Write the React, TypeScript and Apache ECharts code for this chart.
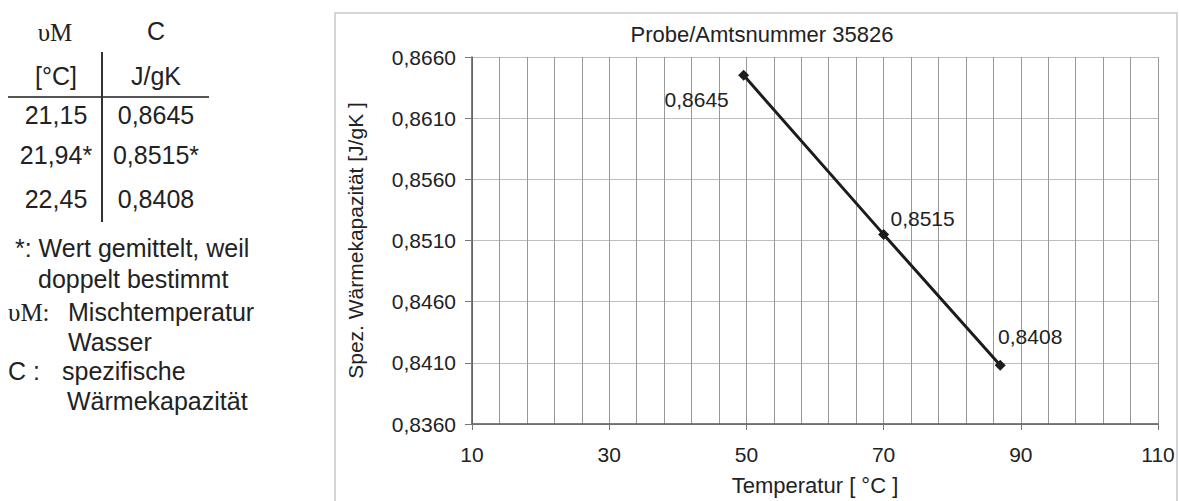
import React, { useEffect, useRef } from "react";
import * as echarts from "echarts";

// ---- data ----
const temperatures = [49.6, 70, 87];
const heatCapacity = [0.8645, 0.8515, 0.8408];
const pointLabels = ["0,8645", "0,8515", "0,8408"];

const tableTemps = ["21,15", "21,94*", "22,45"];
const tableCaps = ["0,8645", "0,8515*", "0,8408"];

const titleText = "Probe/Amtsnummer 35826";
const xName = "Temperatur [ °C ]";
const yName = "Spez. Wärmekapazität [J/gK ]";

const SANS = "'Liberation Sans', Arial, Helvetica, sans-serif";
const SERIF = "'Liberation Serif', 'DejaVu Serif', serif";

const labelOffsets: [number, number][] = [
  [-47, 24],
  [39, -16],
  [30, -29],
];

export default function App() {
  const ref = useRef<HTMLDivElement>(null);

  useEffect(() => {
    if (!ref.current) return;
    const chart = echarts.init(ref.current, undefined, { renderer: "svg" });

    const txt = (
      text: string,
      x: number,
      y: number,
      align: string = "left",
      font: string = SANS,
      size = 25
    ) => ({
      type: "text",
      x,
      y,
      silent: true,
      style: {
        text,
        fill: "#222",
        font: `${size}px ${font}`,
        textAlign: align,
        textVerticalAlign: "middle",
      },
    });

    const rowYs = [115, 155, 199];
    const tableGraphics: any[] = [];
    tableTemps.forEach((t, i) => tableGraphics.push(txt(t, 56, rowYs[i], "center")));
    tableCaps.forEach((c, i) => tableGraphics.push(txt(c, 156, rowYs[i], "center")));

    const data = temperatures.map((t, i) => ({
      value: [t, heatCapacity[i]],
      label: { offset: labelOffsets[i], formatter: pointLabels[i] },
    }));

    chart.setOption({
      animation: false,
      backgroundColor: "#fff",
      title: {
        text: titleText,
        left: 757,
        top: 18,
        textAlign: "center",
        textStyle: { fontFamily: SANS, fontSize: 22, fontWeight: "normal", color: "#222" },
      },
      grid: { left: 472, top: 57, width: 686, height: 370, containLabel: false },
      xAxis: {
        type: "value",
        min: 10,
        max: 110,
        interval: 20,
        name: xName,
        nameLocation: "middle",
        nameGap: 50,
        nameTextStyle: { fontFamily: SANS, fontSize: 22, color: "#222" },
        axisLine: { show: true, onZero: false, lineStyle: { color: "#555", width: 1.5 } },
        axisTick: { show: true, length: 6, lineStyle: { color: "#777" } },
        minorTick: { show: false, splitNumber: 5 },
        axisLabel: { fontFamily: SANS, fontSize: 21, color: "#222", margin: 20 },
        splitLine: { show: true, lineStyle: { color: "#999", width: 1 } },
        minorSplitLine: { show: true, lineStyle: { color: "#999", width: 1 } },
      },
      yAxis: {
        type: "value",
        min: 0.836,
        max: 0.866,
        interval: 0.005,
        name: yName,
        nameLocation: "middle",
        nameGap: 106,
        nameTextStyle: { fontFamily: SANS, fontSize: 21, color: "#222" },
        axisLine: { show: true, onZero: false, lineStyle: { color: "#555", width: 1.5 } },
        axisTick: { show: true, length: 7, lineStyle: { color: "#777" } },
        axisLabel: {
          fontFamily: SANS,
          fontSize: 21,
          color: "#222",
          margin: 16,
          formatter: (v: number) => v.toFixed(4).replace(".", ","),
        },
        splitLine: { show: true, lineStyle: { color: "#bdbdbd", width: 1 } },
      },
      series: [
        {
          type: "line",
          data,
          symbol: "diamond",
          symbolSize: 11,
          showAllSymbol: true,
          lineStyle: { color: "#1c1c1c", width: 3 },
          itemStyle: { color: "#1c1c1c" },
          label: {
            show: true,
            position: "inside",
            align: "center",
            verticalAlign: "middle",
            fontFamily: SANS,
            fontSize: 21,
            color: "#222",
          },
        },
      ],
      graphic: [
        {
          type: "rect",
          silent: true,
          z: -10,
          shape: { x: 335, y: 13, width: 842, height: 520 },
          style: { fill: "none", stroke: "#c8c8c8", lineWidth: 1.5 },
        },
        txt("υM", 55, 32, "center", SERIF, 25),
        txt("C", 156, 31, "center"),
        txt("[°C]", 56, 76, "center"),
        txt("J/gK", 156, 76, "center"),
        {
          type: "line",
          silent: true,
          shape: { x1: 8, y1: 97, x2: 209, y2: 97 },
          style: { stroke: "#555", lineWidth: 2 },
        },
        {
          type: "line",
          silent: true,
          shape: { x1: 102, y1: 52, x2: 102, y2: 222 },
          style: { stroke: "#333", lineWidth: 2 },
        },
        ...tableGraphics,
        txt("*: Wert gemittelt, weil", 15, 248),
        txt("doppelt bestimmt", 38, 279),
        txt("υM:", 8, 312, "left", SERIF, 25),
        txt("Mischtemperatur", 68, 312),
        txt("Wasser", 68, 342),
        txt("C :", 8, 371),
        txt("spezifische", 62, 371),
        txt("Wärmekapazität", 67, 401),
      ],
    });

    return () => chart.dispose();
  }, []);

  return (
    <div
      ref={ref}
      style={{ position: "fixed", left: 0, top: 0, width: 1179, height: 501, background: "#fff" }}
    />
  );
}
